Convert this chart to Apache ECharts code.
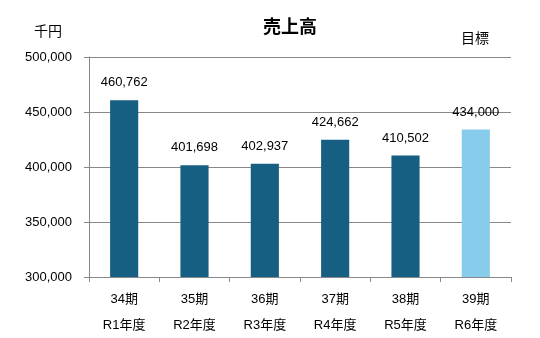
<!DOCTYPE html>
<html><head><meta charset="utf-8">
<script src="https://cdn.jsdelivr.net/npm/echarts@6/dist/echarts.min.js"></script>
<style>html,body{margin:0;padding:0;background:#fff}#c{width:540px;height:338px}</style>
</head><body><div id="c"></div>
<script>
const periods = ['34期','35期','36期','37期','38期','39期'];
const years = ['R1年度','R2年度','R3年度','R4年度','R5年度','R6年度'];
const sales = [460762, 401698, 402937, 424662, 410502, 434000];
const isTarget = [false, false, false, false, false, true];
const yTicks = [300000, 350000, 400000, 450000, 500000];

const FONT = '"Liberation Sans", "Noto Sans CJK JP", sans-serif';
const chart = echarts.init(document.getElementById('c'), null, {renderer: 'canvas'});
chart.setOption({
  animation: false,
  textStyle: {fontFamily: FONT},
  title: {
    text: '売上高', left: 285, top: 12, textAlign: 'center',
    textStyle: {fontFamily: '"Noto Sans CJK JP", sans-serif', fontSize: 18, fontWeight: 'bold', color: '#000'}
  },
  graphic: [
    {type: 'text', left: 34, top: 24, style: {text: '千円', font: '14px "Noto Sans CJK JP"', fill: '#000'}},
    {type: 'text', left: 461, top: 31, style: {text: '目標', font: '14px "Noto Sans CJK JP"', fill: '#000'}}
  ],
  grid: {left: 89, right: 29, top: 57, bottom: 61, containLabel: false},
  xAxis: {
    type: 'category',
    data: periods.map((p, i) => p + '\n' + years[i]),
    axisLine: {show: true, lineStyle: {color: '#888', width: 1}},
    axisTick: {show: true, length: 5, lineStyle: {color: '#888'}},
    axisLabel: {color: '#000', fontSize: 13, lineHeight: 26, margin: 9, fontFamily: FONT}
  },
  yAxis: {
    type: 'value', min: yTicks[0], max: yTicks[yTicks.length - 1], interval: 50000,
    axisLine: {show: true, lineStyle: {color: '#888', width: 1}},
    axisTick: {show: true, length: 5, lineStyle: {color: '#888'}},
    splitLine: {show: true, lineStyle: {color: '#888', width: 1}},
    axisLabel: {color: '#000', fontSize: 13, margin: 17, fontFamily: FONT,
      formatter: v => v.toLocaleString('en-US')}
  },
  series: [{
    type: 'bar', barWidth: '40%',
    data: sales.map((v, i) => ({value: v, itemStyle: {color: isTarget[i] ? '#87cdeb' : '#175f82'}})),
    label: {show: true, position: 'top', distance: 11, color: '#000', fontSize: 13, fontFamily: FONT,
      formatter: p => p.value.toLocaleString('en-US')}
  }]
});
</script></body></html>
